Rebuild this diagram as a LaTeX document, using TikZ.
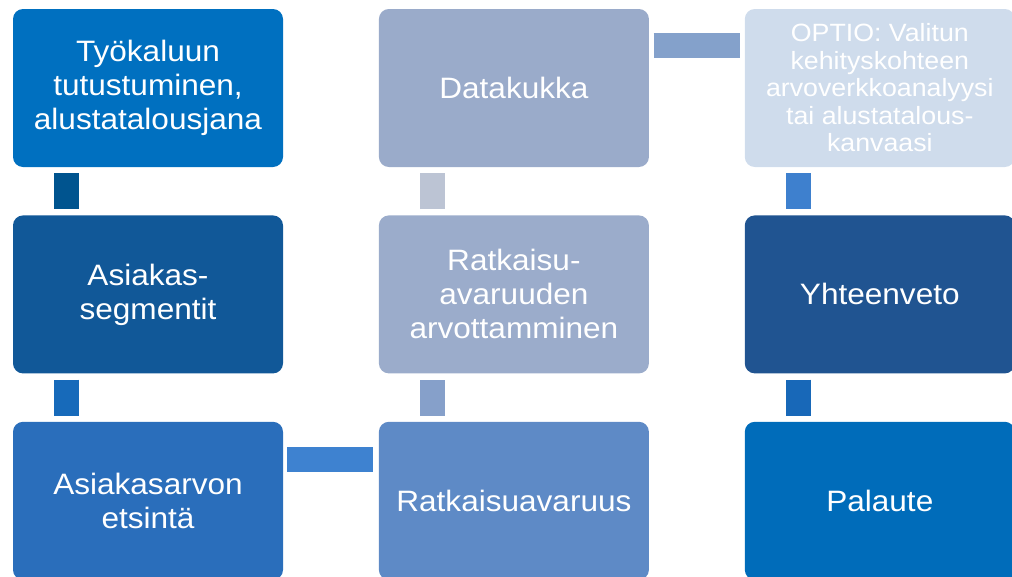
\documentclass[tikz,border=0pt]{standalone}
\usepackage{fontspec}
\setmainfont[FakeStretch=1.07]{Liberation Sans}
\usetikzlibrary{positioning}
\definecolor{phaseA}{HTML}{0070C0}
\definecolor{phaseB}{HTML}{115898}
\definecolor{phaseC}{HTML}{2A6EBB}
\definecolor{phaseD}{HTML}{5E8AC6}
\definecolor{phaseE}{HTML}{9BACCB}
\definecolor{phaseF}{HTML}{9AABCA}
\definecolor{phaseG}{HTML}{CFDCEC}
\definecolor{phaseH}{HTML}{205491}
\definecolor{phaseI}{HTML}{006CBA}
\definecolor{linkA}{HTML}{00548F}
\definecolor{linkB}{HTML}{176ABA}
\definecolor{linkC}{HTML}{3E82D0}
\definecolor{linkD}{HTML}{86A0CA}
\definecolor{linkE}{HTML}{BCC4D4}
\definecolor{linkF}{HTML}{84A1CB}
\definecolor{linkG}{HTML}{3E80CE}
\definecolor{linkH}{HTML}{1868B8}
\tikzset{%
  every phase/.style={
    rectangle,
    rounded corners=10pt,
    minimum width=270pt,
    minimum height=158pt,
    inner sep=0pt,
    align=center,
    text=white,
    font=\fontsize{29.5}{34}\selectfont
  },
  phase link/.style={
    line width=25pt
  },
}

\begin{document}
\begin{tikzpicture}[node distance=48pt and 95.5pt]
\useasboundingbox (0,0) rectangle (1012pt,-576pt);

\node[every phase, fill=phaseA] (tyokalu) at (148pt,-88pt) {Työkaluun\\tutustuminen,\\alustatalousjana};
\node[every phase, fill=phaseB, below=of tyokalu] (segmentit) {Asiakas-\\segmentit};
\node[every phase, fill=phaseC, below=of segmentit] (etsinta) {Asiakasarvon\\etsintä};

\node[every phase, fill=phaseF, right=of tyokalu] (datakukka) {Datakukka};
\node[every phase, fill=phaseE, right=of segmentit] (arvottaminen) {Ratkaisu-\\avaruuden\\arvottamminen};
\node[every phase, fill=phaseD, right=of etsinta] (avaruus) {Ratkaisuavaruus};

\node[every phase, fill=phaseG, right=of datakukka,
  font=\fontsize{25}{27.5}\selectfont] (optio) {OPTIO: Valitun\\kehityskohteen\\arvoverkkoanalyysi\\tai alustatalous-\\kanvaasi};
\node[every phase, fill=phaseH, right=of arvottaminen] (yhteenveto) {Yhteenveto};
\node[every phase, fill=phaseI, right=of avaruus] (palaute) {Palaute};

    \draw[phase link, linkA] ([xshift=53.5pt,yshift=-6pt]tyokalu.south west) -- ([xshift=53.5pt,yshift=6pt]segmentit.north west);
    \draw[phase link, linkB] ([xshift=53.5pt,yshift=-6pt]segmentit.south west) -- ([xshift=53.5pt,yshift=6pt]etsinta.north west);
    \draw[phase link, linkC] ([xshift=4pt,yshift=-37.5pt]etsinta.north east) -- ([xshift=-5.5pt,yshift=-37.5pt]avaruus.north west);

    \draw[phase link, linkD] ([xshift=53.5pt,yshift=6pt]avaruus.north west) -- ([xshift=53.5pt,yshift=-6pt]arvottaminen.south west);
    \draw[phase link, linkE] ([xshift=53.5pt,yshift=6pt]arvottaminen.north west) -- ([xshift=53.5pt,yshift=-6pt]datakukka.south west);
    \draw[phase link, linkF] ([xshift=4.5pt,yshift=-37pt]datakukka.north east) -- ([xshift=-5pt,yshift=-37pt]optio.north west);

    \draw[phase link, linkG] ([xshift=53.5pt,yshift=-6pt]optio.south west) -- ([xshift=53.5pt,yshift=6pt]yhteenveto.north west);
    \draw[phase link, linkH] ([xshift=53.5pt,yshift=-6pt]yhteenveto.south west) -- ([xshift=53.5pt,yshift=6pt]palaute.north west);
\end{tikzpicture}
\end{document}
